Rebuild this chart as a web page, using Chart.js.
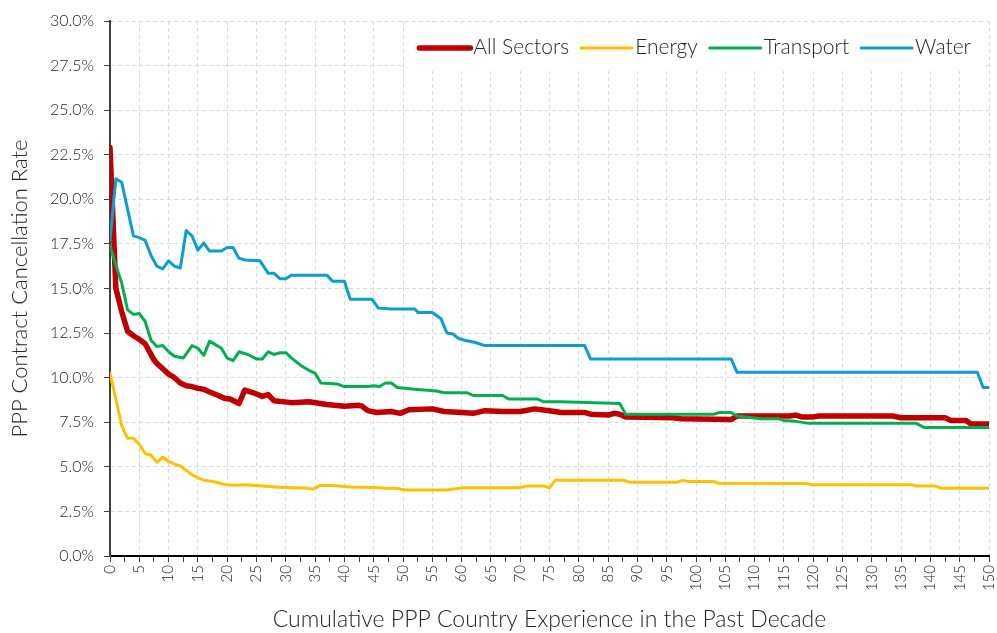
<!DOCTYPE html>
<html>
<head>
<meta charset="utf-8">
<script src="https://cdn.jsdelivr.net/npm/chart.js@4.4.1/dist/chart.umd.min.js"></script>
<style>
  html, body { margin: 0; padding: 0; background: #fff; }
  #wrap { width: 997px; height: 633px; }
</style>
</head>
<body>
<div id="wrap"><canvas id="chart" width="997" height="633"></canvas></div>
<script>
// values (x = cumulative experience, y = cancellation rate in %)
const allX = [0, 1, 2, 3, 4, 5, 6, 7.5, 8, 9, 10, 11, 12, 13, 14, 15, 16, 17, 18.5, 19.5, 20.5, 22, 23, 24.5, 26, 27, 28, 31, 34, 37, 40, 42.5, 43, 44, 45.5, 48, 49.5, 51, 55, 57, 60, 62, 64, 67, 70, 72.5, 75, 77, 81, 82, 85, 86, 87, 88, 96, 97.5, 106, 107, 116, 117, 118, 120, 121, 133.5, 135, 142.5, 143.5, 146, 147, 150];
const allY = [22.9, 15.0, 13.7, 12.6, 12.35, 12.15, 11.9, 11.0, 10.8, 10.5, 10.2, 10.0, 9.7, 9.55, 9.5, 9.4, 9.35, 9.2, 9.0, 8.85, 8.8, 8.55, 9.3, 9.15, 8.95, 9.05, 8.7, 8.6, 8.65, 8.5, 8.4, 8.45, 8.4, 8.15, 8.05, 8.1, 8.0, 8.2, 8.25, 8.1, 8.05, 8.0, 8.15, 8.1, 8.1, 8.25, 8.15, 8.05, 8.05, 7.95, 7.9, 8.0, 7.95, 7.8, 7.75, 7.7, 7.65, 7.85, 7.85, 7.9, 7.8, 7.8, 7.85, 7.85, 7.75, 7.75, 7.6, 7.6, 7.4, 7.4];

const energyX = [0, 1, 2, 3, 4, 5, 6, 7, 8, 9, 10, 11, 12, 13, 14, 15, 16, 17, 18, 19, 20, 21.5, 23, 25, 27, 29, 33, 34.7, 35.8, 38, 41, 45, 47, 49, 50.5, 57.4, 58.6, 60.3, 70, 71.1, 74, 75, 76, 87.6, 88.7, 96.7, 97.7, 98.7, 103, 103.8, 118.9, 119.7, 136.8, 137.7, 140.8, 141.9, 150];
const energyY = [10.25, 8.8, 7.3, 6.6, 6.6, 6.25, 5.75, 5.65, 5.25, 5.55, 5.3, 5.15, 5.05, 4.8, 4.55, 4.4, 4.25, 4.2, 4.15, 4.05, 4.0, 3.97, 4.0, 3.95, 3.9, 3.85, 3.82, 3.75, 3.95, 3.95, 3.87, 3.84, 3.8, 3.78, 3.7, 3.7, 3.75, 3.83, 3.83, 3.93, 3.93, 3.82, 4.25, 4.25, 4.13, 4.13, 4.24, 4.18, 4.18, 4.08, 4.06, 4.0, 4.0, 3.92, 3.92, 3.8, 3.8];

const transportX = [0, 1, 2, 3, 4, 5, 6, 7, 8, 9, 10, 11, 12.5, 14, 15, 16, 17, 19, 20, 21, 22, 23.5, 25, 26, 27, 28, 29, 30, 31, 32.7, 34, 35, 36, 38.7, 40, 44, 45, 46, 47, 48, 49, 52, 55.7, 57, 61, 62, 67, 68, 73, 74, 77, 87, 88, 103, 104, 106, 107, 111, 114, 115, 117, 119, 137.5, 139, 150];
const transportY = [17.4, 16.3, 15.3, 13.8, 13.55, 13.6, 13.15, 12.1, 11.75, 11.8, 11.45, 11.2, 11.1, 11.8, 11.65, 11.25, 12.05, 11.65, 11.1, 10.95, 11.45, 11.3, 11.05, 11.05, 11.45, 11.3, 11.4, 11.4, 11.1, 10.65, 10.4, 10.25, 9.7, 9.65, 9.5, 9.5, 9.55, 9.5, 9.7, 9.7, 9.45, 9.35, 9.25, 9.15, 9.15, 9.0, 9.0, 8.8, 8.8, 8.65, 8.65, 8.55, 7.95, 7.95, 8.05, 8.05, 7.85, 7.7, 7.7, 7.6, 7.55, 7.45, 7.45, 7.2, 7.2];

const waterX = [0, 1, 2, 4, 5, 6, 7, 8, 9, 10, 11, 12, 13, 14, 15, 16, 17, 19, 20, 21, 22, 23, 25.6, 27, 28, 29, 30, 31, 37, 38, 40, 41, 44.7, 45.8, 48, 52, 52.6, 55, 56.5, 57.5, 58.5, 59.5, 60.5, 62, 63, 64, 81, 82, 106, 107, 148, 149, 150];
const waterY = [17.7, 21.15, 20.95, 17.95, 17.85, 17.7, 16.85, 16.25, 16.1, 16.55, 16.25, 16.15, 18.25, 17.95, 17.15, 17.55, 17.1, 17.1, 17.3, 17.3, 16.7, 16.6, 16.55, 15.85, 15.85, 15.55, 15.55, 15.75, 15.75, 15.4, 15.4, 14.4, 14.4, 13.9, 13.85, 13.85, 13.65, 13.65, 13.3, 12.5, 12.45, 12.2, 12.1, 12.0, 11.9, 11.8, 11.8, 11.05, 11.05, 10.3, 10.3, 9.45, 9.45];

const seriesNames = ['All Sectors', 'Energy', 'Transport', 'Water'];
const seriesColors = ['#C00000', '#FFC000', '#00B050', '#0A9DD6'];

const xMin = 0, xMax = 150, xStep = 2.5, xLabelEvery = 5;
const yMin = 0, yMax = 30, yStep = 2.5;

const FONT = 'Lato, "Open Sans", sans-serif';

function toPoints(xs, ys) {
  return xs.map((x, i) => ({ x: x, y: ys[i] }));
}

// legend drawn inside the plot, top right, over a white box
const insideLegend = {
  id: 'insideLegend',
  afterDatasetsDraw(chart) {
    const { ctx, chartArea } = chart;
    const boxRight = chartArea.right - 3;
    const boxTop = chartArea.top + 2;
    const lineLen = 51, gapText = 3, gapItem = 12, padX = 15;
    ctx.save();
    ctx.font = '300 21px ' + FONT;
    const widths = seriesNames.map(n => ctx.measureText(n).width);
    let total = padX * 2;
    widths.forEach((w, i) => { total += lineLen + gapText + w + (i < widths.length - 1 ? gapItem : 0); });
    const boxLeft = boxRight - total;
    ctx.fillStyle = '#ffffff';
    ctx.fillRect(boxLeft, boxTop, total, 48);
    const cy = boxTop + 25;
    let x = boxLeft + padX;
    chart.data.datasets.forEach((ds, i) => {
      ctx.strokeStyle = ds.borderColor;
      ctx.lineWidth = ds.borderWidth;
      ctx.lineCap = 'round';
      ctx.beginPath();
      ctx.moveTo(x, cy);
      ctx.lineTo(x + lineLen, cy);
      ctx.stroke();
      x += lineLen + gapText;
      ctx.fillStyle = '#262626';
      ctx.textBaseline = 'middle';
      ctx.textAlign = 'left';
      ctx.fillText(ds.label, x, cy - 1);
      x += widths[i] + gapItem;
    });
    ctx.restore();
  }
};

const ctx = document.getElementById('chart').getContext('2d');
new Chart(ctx, {
  type: 'line',
  data: {
    datasets: [
      { label: seriesNames[0], data: toPoints(allX, allY), borderColor: seriesColors[0], borderWidth: 5.5, order: 3 },
      { label: seriesNames[1], data: toPoints(energyX, energyY), borderColor: seriesColors[1], borderWidth: 3, order: 2 },
      { label: seriesNames[2], data: toPoints(transportX, transportY), borderColor: seriesColors[2], borderWidth: 3, order: 1 },
      { label: seriesNames[3], data: toPoints(waterX, waterY), borderColor: seriesColors[3], borderWidth: 3, order: 0 }
    ]
  },
  options: {
    responsive: false,
    animation: false,
    events: [],
    elements: {
      point: { radius: 0 },
      line: { tension: 0, borderJoinStyle: 'round', borderCapStyle: 'round', fill: false }
    },
    layout: { padding: { top: 21, right: 8, left: 0, bottom: 0 } },
    plugins: {
      legend: { display: false },
      tooltip: { enabled: false }
    },
    scales: {
      x: {
        type: 'linear',
        min: xMin,
        max: xMax,
        afterFit: s => { s.height = 77; s.paddingRight = 0; s.paddingLeft = 0; },
        ticks: {
          stepSize: xStep,
          autoSkip: false,
          maxRotation: 90,
          minRotation: 90,
          padding: 3,
          color: '#262626',
          font: { family: FONT, size: 15, weight: 300 },
          callback: v => (v % xLabelEvery === 0 ? String(v) : '')
        },
        grid: {
          color: c => (c.tick && c.tick.value % xLabelEvery === 0 ? '#d9d9d9' : 'rgba(0,0,0,0)'),
          lineWidth: 1,
          tickLength: 6,
          tickColor: '#404040',
          tickWidth: 1
        },
        border: { color: '#000000', width: 2, dash: [4, 3] },
        title: {
          display: true,
          text: 'Cumulative PPP Country Experience in the Past Decade',
          color: '#262626',
          font: { family: FONT, size: 23, weight: 300 },
          padding: { top: 0, bottom: 0 }
        }
      },
      y: {
        type: 'linear',
        min: yMin,
        max: yMax,
        afterFit: s => { s.width = 110; },
        ticks: {
          stepSize: yStep,
          padding: 10,
          color: '#262626',
          font: { family: FONT, size: 16, weight: 300 },
          callback: v => v.toFixed(1) + '%'
        },
        grid: {
          color: '#d9d9d9',
          lineWidth: 1,
          tickLength: 6,
          tickColor: '#404040',
          tickWidth: 1
        },
        border: { color: '#404040', width: 2, dash: [4, 3] },
        title: {
          display: true,
          text: 'PPP Contract Cancellation Rate',
          color: '#262626',
          font: { family: FONT, size: 22, weight: 300 },
          padding: { top: 7, bottom: 0 }
        }
      }
    }
  },
  plugins: [insideLegend]
});
</script>
</body>
</html>
